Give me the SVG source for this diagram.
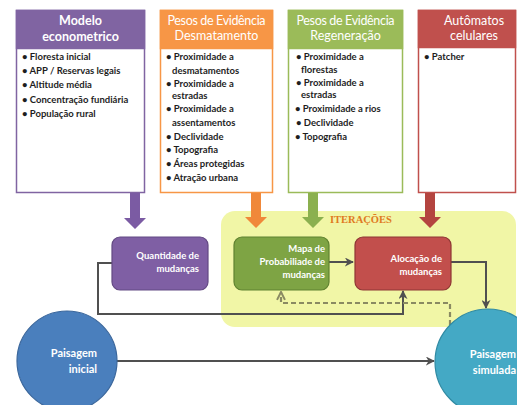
<svg xmlns="http://www.w3.org/2000/svg" width="517" height="405" viewBox="0 0 517 405">
<defs>
<style>
.hd{font-family:Lato,"Open Sans","Liberation Sans",sans-serif;font-size:12.5px;fill:#fff;text-anchor:middle}
.li{font-family:Lato,"Open Sans","Liberation Sans",sans-serif;font-size:9.5px;fill:#1e1e1e;font-weight:bold}
.bx{font-family:Lato,"Open Sans","Liberation Sans",sans-serif;font-size:9.5px;fill:#fff;font-weight:bold;text-anchor:end}
.ci{font-family:Lato,"Open Sans","Liberation Sans",sans-serif;font-size:11px;fill:#fff;font-weight:bold;text-anchor:end}
.cn{fill:none;stroke:#505050;stroke-width:2}
.dsh{fill:none;stroke:#8a8a62;stroke-width:2.2;stroke-dasharray:5 3}
</style>
<marker id="ah" viewBox="0 0 10 10" refX="9" refY="5" markerWidth="4.5" markerHeight="4.5" orient="auto">
<path d="M0,0 L10,5 L0,10 L3,5 Z" fill="#505050"/>
</marker>
<marker id="ahd" viewBox="0 0 10 10" refX="9" refY="5" markerWidth="4.5" markerHeight="4.5" orient="auto">
<path d="M1,1 L9,5 L1,9" fill="none" stroke="#8a8a62" stroke-width="2"/>
</marker>
</defs>
<rect width="517" height="405" fill="#fff"/>

<!-- iteration highlight -->
<rect x="221" y="211" width="295" height="116" rx="14" fill="#f1f6a6"/>
<text x="330" y="223" font-family="'Liberation Serif',serif" font-weight="bold" font-size="10.5" fill="#e07a22">ITERAÇÕES</text>

<!-- top boxes -->
<g id="modelo">
<rect x="16.5" y="10.5" width="128" height="182" fill="#fff" stroke="#8064a2" stroke-width="1.5"/>
<rect x="16.5" y="10.5" width="128" height="38" fill="#8064a2" stroke="#8064a2" stroke-width="1.5"/>
<text class="hd" x="80.5" y="25" font-weight="bold">Modelo</text>
<text class="hd" x="80.5" y="41" font-weight="bold">econometrico</text>
<text class="li" x="22" y="60">• Floresta inicial</text>
<text class="li" x="22" y="74">• APP / Reservas legais</text>
<text class="li" x="22" y="88">• Altitude média</text>
<text class="li" x="22" y="103">• Concentração fundiária</text>
<text class="li" x="22" y="117">• População rural</text>
</g>
<g id="desmatamento">
<rect x="160.5" y="10.5" width="112" height="182" fill="#fff" stroke="#f79646" stroke-width="1.5"/>
<rect x="160.5" y="10.5" width="112" height="38" fill="#f79646" stroke="#f79646" stroke-width="1.5"/>
<text class="hd" x="216.5" y="25" textLength="98" lengthAdjust="spacing">Pesos de Evidência</text>
<text class="hd" x="216.5" y="40">Desmatamento</text>
<text class="li" x="166" y="60">• Proximidade a</text>
<text class="li" x="172" y="74">desmatamentos</text>
<text class="li" x="166" y="87">• Proximidade a</text>
<text class="li" x="172" y="99">estradas</text>
<text class="li" x="166" y="112">• Proximidade a</text>
<text class="li" x="172" y="126">assentamentos</text>
<text class="li" x="166" y="140">• Declividade</text>
<text class="li" x="166" y="153">• Topografia</text>
<text class="li" x="166" y="167">• Áreas protegidas</text>
<text class="li" x="166" y="181">• Atração urbana</text>
</g>
<g id="regeneracao">
<rect x="288.5" y="10.5" width="114" height="182" fill="#fff" stroke="#9bbb59" stroke-width="1.5"/>
<rect x="288.5" y="10.5" width="114" height="38" fill="#9bbb59" stroke="#9bbb59" stroke-width="1.5"/>
<text class="hd" x="345.5" y="25" textLength="98" lengthAdjust="spacing">Pesos de Evidência</text>
<text class="hd" x="345.5" y="40">Regeneração</text>
<text class="li" x="296" y="60">• Proximidade a</text>
<text class="li" x="301" y="73">florestas</text>
<text class="li" x="296" y="86">• Proximidade a</text>
<text class="li" x="301" y="98">estradas</text>
<text class="li" x="295" y="112">• Proximidade a rios</text>
<text class="li" x="296" y="126">• Declividade</text>
<text class="li" x="295" y="140">• Topografia</text>
</g>
<g id="automatos">
<rect x="418.5" y="10.5" width="97" height="182" fill="#fff" stroke="#c0504d" stroke-width="1.5"/>
<rect x="418.5" y="10.5" width="97" height="37" fill="#c0504d" stroke="#c0504d" stroke-width="1.5"/>
<text class="hd" x="474" y="25">Autômatos</text>
<text class="hd" x="474" y="40">celulares</text>
<text class="li" x="424" y="60">• Patcher</text>
</g>

<!-- block arrows -->
<g id="block-arrows">
<path d="M130,193 H140 V218 H146 L135,229 L124,218 H130 Z" fill="#7b5ba3"/>
<path d="M251,193 H261 V217 H267 L256,228 L245,217 H251 Z" fill="#f0883a"/>
<path d="M308,193 H318 V217 H324 L313,228 L302,217 H308 Z" fill="#8bb04f"/>
<path d="M425,193 H435 V217 H441 L430,228 L419,217 H425 Z" fill="#b4443f"/>
</g>

<!-- connectors -->
<g id="connectors">
<path class="cn" d="M328,262 H353" marker-end="url(#ah)"/>
<path class="cn" d="M451,262 H486 V308" marker-end="url(#ah)"/>
<path class="cn" d="M112,263 H98 V314 H403 V291" marker-end="url(#ah)"/>
<path class="dsh" d="M450,325 V303 H281 V292" marker-end="url(#ahd)"/>
<path class="cn" d="M117,361 H434" marker-end="url(#ah)"/>
</g>

<!-- process boxes -->
<g id="quantidade">
<rect x="112" y="237" width="96" height="53" rx="8" fill="#7f5fa4" stroke="#634a83" stroke-width="1.2"/>
<text class="bx" x="199" y="259">Quantidade de</text>
<text class="bx" x="199" y="272">mudanças</text>
</g>
<g id="mapa">
<rect x="234" y="237" width="95" height="53" rx="8" fill="#7ea444" stroke="#5f8230" stroke-width="1.2"/>
<text class="bx" x="325" y="252">Mapa de</text>
<text class="bx" x="325" y="265">Probabiliade de</text>
<text class="bx" x="325" y="278">mudanças</text>
</g>
<g id="alocacao">
<rect x="355" y="237" width="96" height="53" rx="8" fill="#c24f4c" stroke="#8e3634" stroke-width="1.2"/>
<text class="bx" x="442" y="262">Alocação de</text>
<text class="bx" x="442" y="275">mudanças</text>
</g>

<!-- landscapes -->
<g id="paisagem-inicial">
<circle cx="67" cy="361" r="50" fill="#4a7fbd" stroke="#3b679c" stroke-width="1.2"/>
<text class="ci" x="97" y="357">Paisagem</text>
<text class="ci" x="97" y="373">inicial</text>
</g>
<g id="paisagem-simulada">
<circle cx="488" cy="362" r="53" fill="#44a9c5" stroke="#2f8aa3" stroke-width="1.2"/>
<text class="ci" x="516" y="358">Paisagem</text>
<text class="ci" x="516" y="374">simulada</text>
</g>
</svg>
